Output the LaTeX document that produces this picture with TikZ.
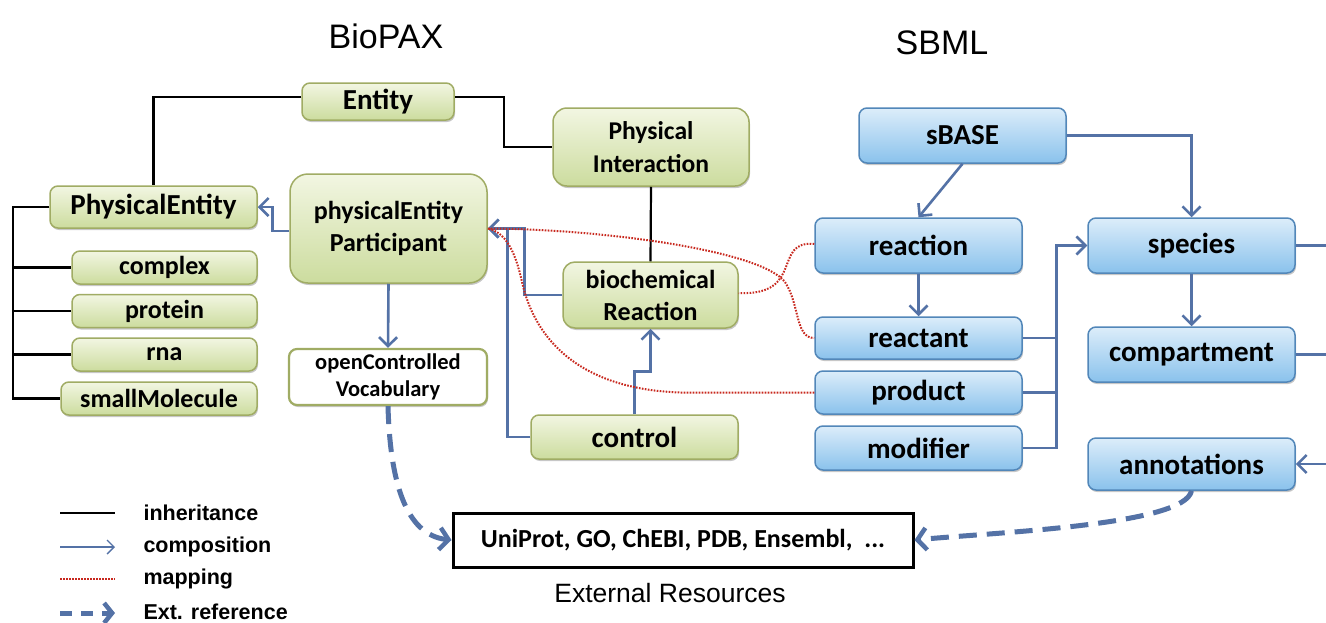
\documentclass[tikz,border=0pt]{standalone}
\usepackage{fontspec}
\setmainfont{Carlito}
\newfontfamily\arialf{Liberation Sans}
\usetikzlibrary{arrows.meta,shadows}
\definecolor{gtop}{RGB}{242,246,226}
\definecolor{gbot}{RGB}{204,220,158}
\definecolor{gborder}{RGB}{160,172,100}
\definecolor{btop}{RGB}{220,237,250}
\definecolor{bbot}{RGB}{138,194,236}
\definecolor{bborder}{RGB}{82,135,185}
\definecolor{cblue}{RGB}{84,114,166}
\definecolor{mapred}{RGB}{200,40,30}
\begin{document}
\begin{tikzpicture}[x=1pt,y=-1pt,
  box/.style={rounded corners=8pt, line width=1.5pt, inner sep=0pt, align=center,
    font=\bfseries\fontsize{29}{32}\selectfont,
    drop shadow={shadow xshift=1pt,shadow yshift=-2pt,opacity=0.22,fill=black}},
  gbox/.style={box, draw=gborder, top color=gtop, bottom color=gbot},
  bbox/.style={box, draw=bborder, top color=btop, bottom color=bbot},
  fsmall/.style={font=\bfseries\fontsize{26}{32}\selectfont},
  inh/.style={draw=black, line width=2.2pt},
  comp/.style={draw=cblue, line width=2.6pt, -{Straight Barb[length=9pt,width=18pt,line width=2.6pt]}},
  compline/.style={draw=cblue, line width=2.6pt},
  maps/.style={draw=mapred, line width=2pt, dash pattern=on 1.6pt off 1.4pt},
  extref/.style={draw=cblue, line width=5pt, dash pattern=on 18pt off 10pt,
    -{Straight Barb[length=9pt,width=22pt,line width=4.5pt]}},
  title/.style={font=\arialf\fontsize{34}{40}\selectfont},
  legtext/.style={anchor=west, font=\arialf\bfseries\fontsize{21.5}{24}\selectfont}
]
\useasboundingbox[fill=white] (0,0) rectangle (1326,622);

% titles
\node[title] (tbiopax) at (386,36) {BioPAX};
\node[title] (tsbml) at (942,43) {SBML};

% BioPAX nodes
\node[gbox, minimum width=152pt, minimum height=37pt] (entity) at (378,101.5) {Entity};
\node[gbox, minimum width=207pt, minimum height=42pt] (pe) at (153.5,207) {PhysicalEntity};
\node[gbox, fsmall, minimum width=185pt, minimum height=33pt] (complex) at (164.5,267.5) {complex};
\node[gbox, fsmall, minimum width=185pt, minimum height=33pt] (protein) at (164.5,311) {protein};
\node[gbox, fsmall, minimum width=185pt, minimum height=33pt] (rna) at (164.5,354.5) {rna};
\node[gbox, fsmall, minimum width=196pt, minimum height=33pt] (small) at (159,398.5) {smallMolecule};
\node[gbox, fsmall, rounded corners=18pt, minimum width=197pt, minimum height=109pt] (pep) at (388.5,228.5) {physicalEntity\\Participant};
\node[box, draw=gborder, fill=white, line width=2.2pt, font=\bfseries\fontsize{22.5}{27}\selectfont, minimum width=198pt, minimum height=56pt] (ocv) at (388,377) {openControlled\\Vocabulary};
\node[gbox, font=\bfseries\fontsize{25.6}{33}\selectfont, rounded corners=14pt, minimum width=196pt, minimum height=78pt] (pi) at (651,147) {Physical\\Interaction};
\node[gbox, fsmall, rounded corners=12pt, minimum width=175pt, minimum height=66pt] (br) at (650.5,295) {biochemical\\Reaction};
\node[gbox, minimum width=207pt, minimum height=44pt] (control) at (634.5,437) {control};

% SBML nodes
\node[bbox, minimum width=207pt, minimum height=55pt] (sbase) at (962.5,135.5) {sBASE};
\node[bbox, minimum width=207pt, minimum height=55pt] (reaction) at (918.5,245.5) {reaction};
\node[bbox, minimum width=207pt, minimum height=42pt] (reactant) at (918.5,338) {reactant};
\node[bbox, minimum width=207pt, minimum height=43pt] (product) at (918.5,392.5) {product};
\node[bbox, minimum width=207pt, minimum height=44pt] (modifier) at (918.5,448) {modifier};
\node[bbox, minimum width=207pt, minimum height=55pt] (species) at (1191.5,245.5) {species};
\node[bbox, minimum width=207pt, minimum height=55pt] (compartment) at (1191.5,354.5) {compartment};
\node[bbox, minimum width=207pt, minimum height=52pt] (annotations) at (1191.5,464) {annotations};

% external resources
\node[draw=black, line width=3pt, minimum width=460pt, minimum height=54pt, inner sep=0pt,
  font=\bfseries\fontsize{26}{30}\selectfont] (ext) at (683,540) {UniProt, GO, ChEBI, PDB, Ensembl,\ \ ...};
\node[font=\arialf\fontsize{26.5}{30}\selectfont] (extlab) at (670,593) {External Resources};

% inheritance
\draw[inh] ([yshift=4.5pt]entity.west) -| (pe.north);
\draw[inh] ([yshift=4.5pt]entity.east) -- ++(49,0) |- (pi.west);
\draw[inh] (pi.south) -- (br.north);
\draw[inh] (pe.west) -- ++(-36,0) coordinate (hier) |- (small.west);
\draw[inh] (hier |- complex.west) -- (complex.west);
\draw[inh] (hier |- protein.west) -- (protein.west);
\draw[inh] (hier |- rna.west) -- (rna.west);

% composition
\draw[comp] ([yshift=-2.5pt]pep.west) -- ++(-17,0) |- (pe.east);
\draw[comp] (pep.south) -- (ocv.north);
\draw[comp] (br.west) -- ++(-38,0) |- (pep.east);
\draw[comp] (control.west) -- ++(-23,0) |- (pep.east);
\draw[comp] (control.north) -- ++(0,-43) -| (br.south);
\draw[comp] (sbase.south) -- (reaction.north);
\draw[comp] (sbase.east) -| (species.north);
\draw[comp] (reaction.south) -- (reactant.north);
\draw[comp] (species.south) -- (compartment.north);
\draw[comp] (modifier.east) -- ++(34,0) coordinate (coll) |- (species.west);
\draw[compline] (reactant.east) -- (coll |- reactant.east);
\draw[compline] (product.east) -- (coll |- product.east);
\coordinate (rspec) at (1326,245.5);
\coordinate (rcomp) at (1326,354.5);
\coordinate (rann) at (1326,464);
\draw[compline] (species.east) -- (rspec);
\draw[compline] (compartment.east) -- (rcomp);
\draw[comp] (rann) -- (annotations.east);

% mapping
\draw[maps] ([yshift=1.5pt]reaction.west) .. controls (772,240) and (805,296) .. ([yshift=2pt]br.east);
\draw[maps] (pep.east) .. controls (600,229) and (760,250) .. (785,282) .. controls (800,305) and (795,338) .. (reactant.west);
\draw[maps] (product.west) -- (680,392.5) .. controls (580,389) and (535,340) .. (522,282) .. controls (515,250) and (505,232) .. (pep.east);

% external references
\draw[extref] (ocv.south) .. controls (390,480) and (405,535) .. (ext.west);
\draw[extref] (annotations.south) .. controls (1185,525) and (1000,532) .. (ext.east);

% legend
\coordinate (la1) at (60,513); \coordinate (lb1) at (115,513);
\coordinate (la2) at (60,547); \coordinate (lb2) at (115,547);
\coordinate (la3) at (60,579); \coordinate (lb3) at (115,579);
\coordinate (la4) at (60,613); \coordinate (lb4) at (115,613);
\draw[inh] (la1) -- (lb1);
\draw[draw=cblue, line width=1.4pt, -{Straight Barb[length=7pt,width=14pt,line width=1.4pt]}] (la2) -- (lb2);
\draw[maps] (la3) -- (lb3);
\draw[draw=cblue, line width=5pt, dash pattern=on 12pt off 9pt, -{Straight Barb[length=8pt,width=20pt,line width=4.5pt]}] (la4) -- (lb4);
\node[legtext] (t1) at (140,513) {inheritance};
\node[legtext] (t2) at (140,547) {composition};
\node[legtext] (t3) at (140,579) {mapping};
\node[legtext] (t4) at (140,612) {Ext. reference};
\end{tikzpicture}
\end{document}
